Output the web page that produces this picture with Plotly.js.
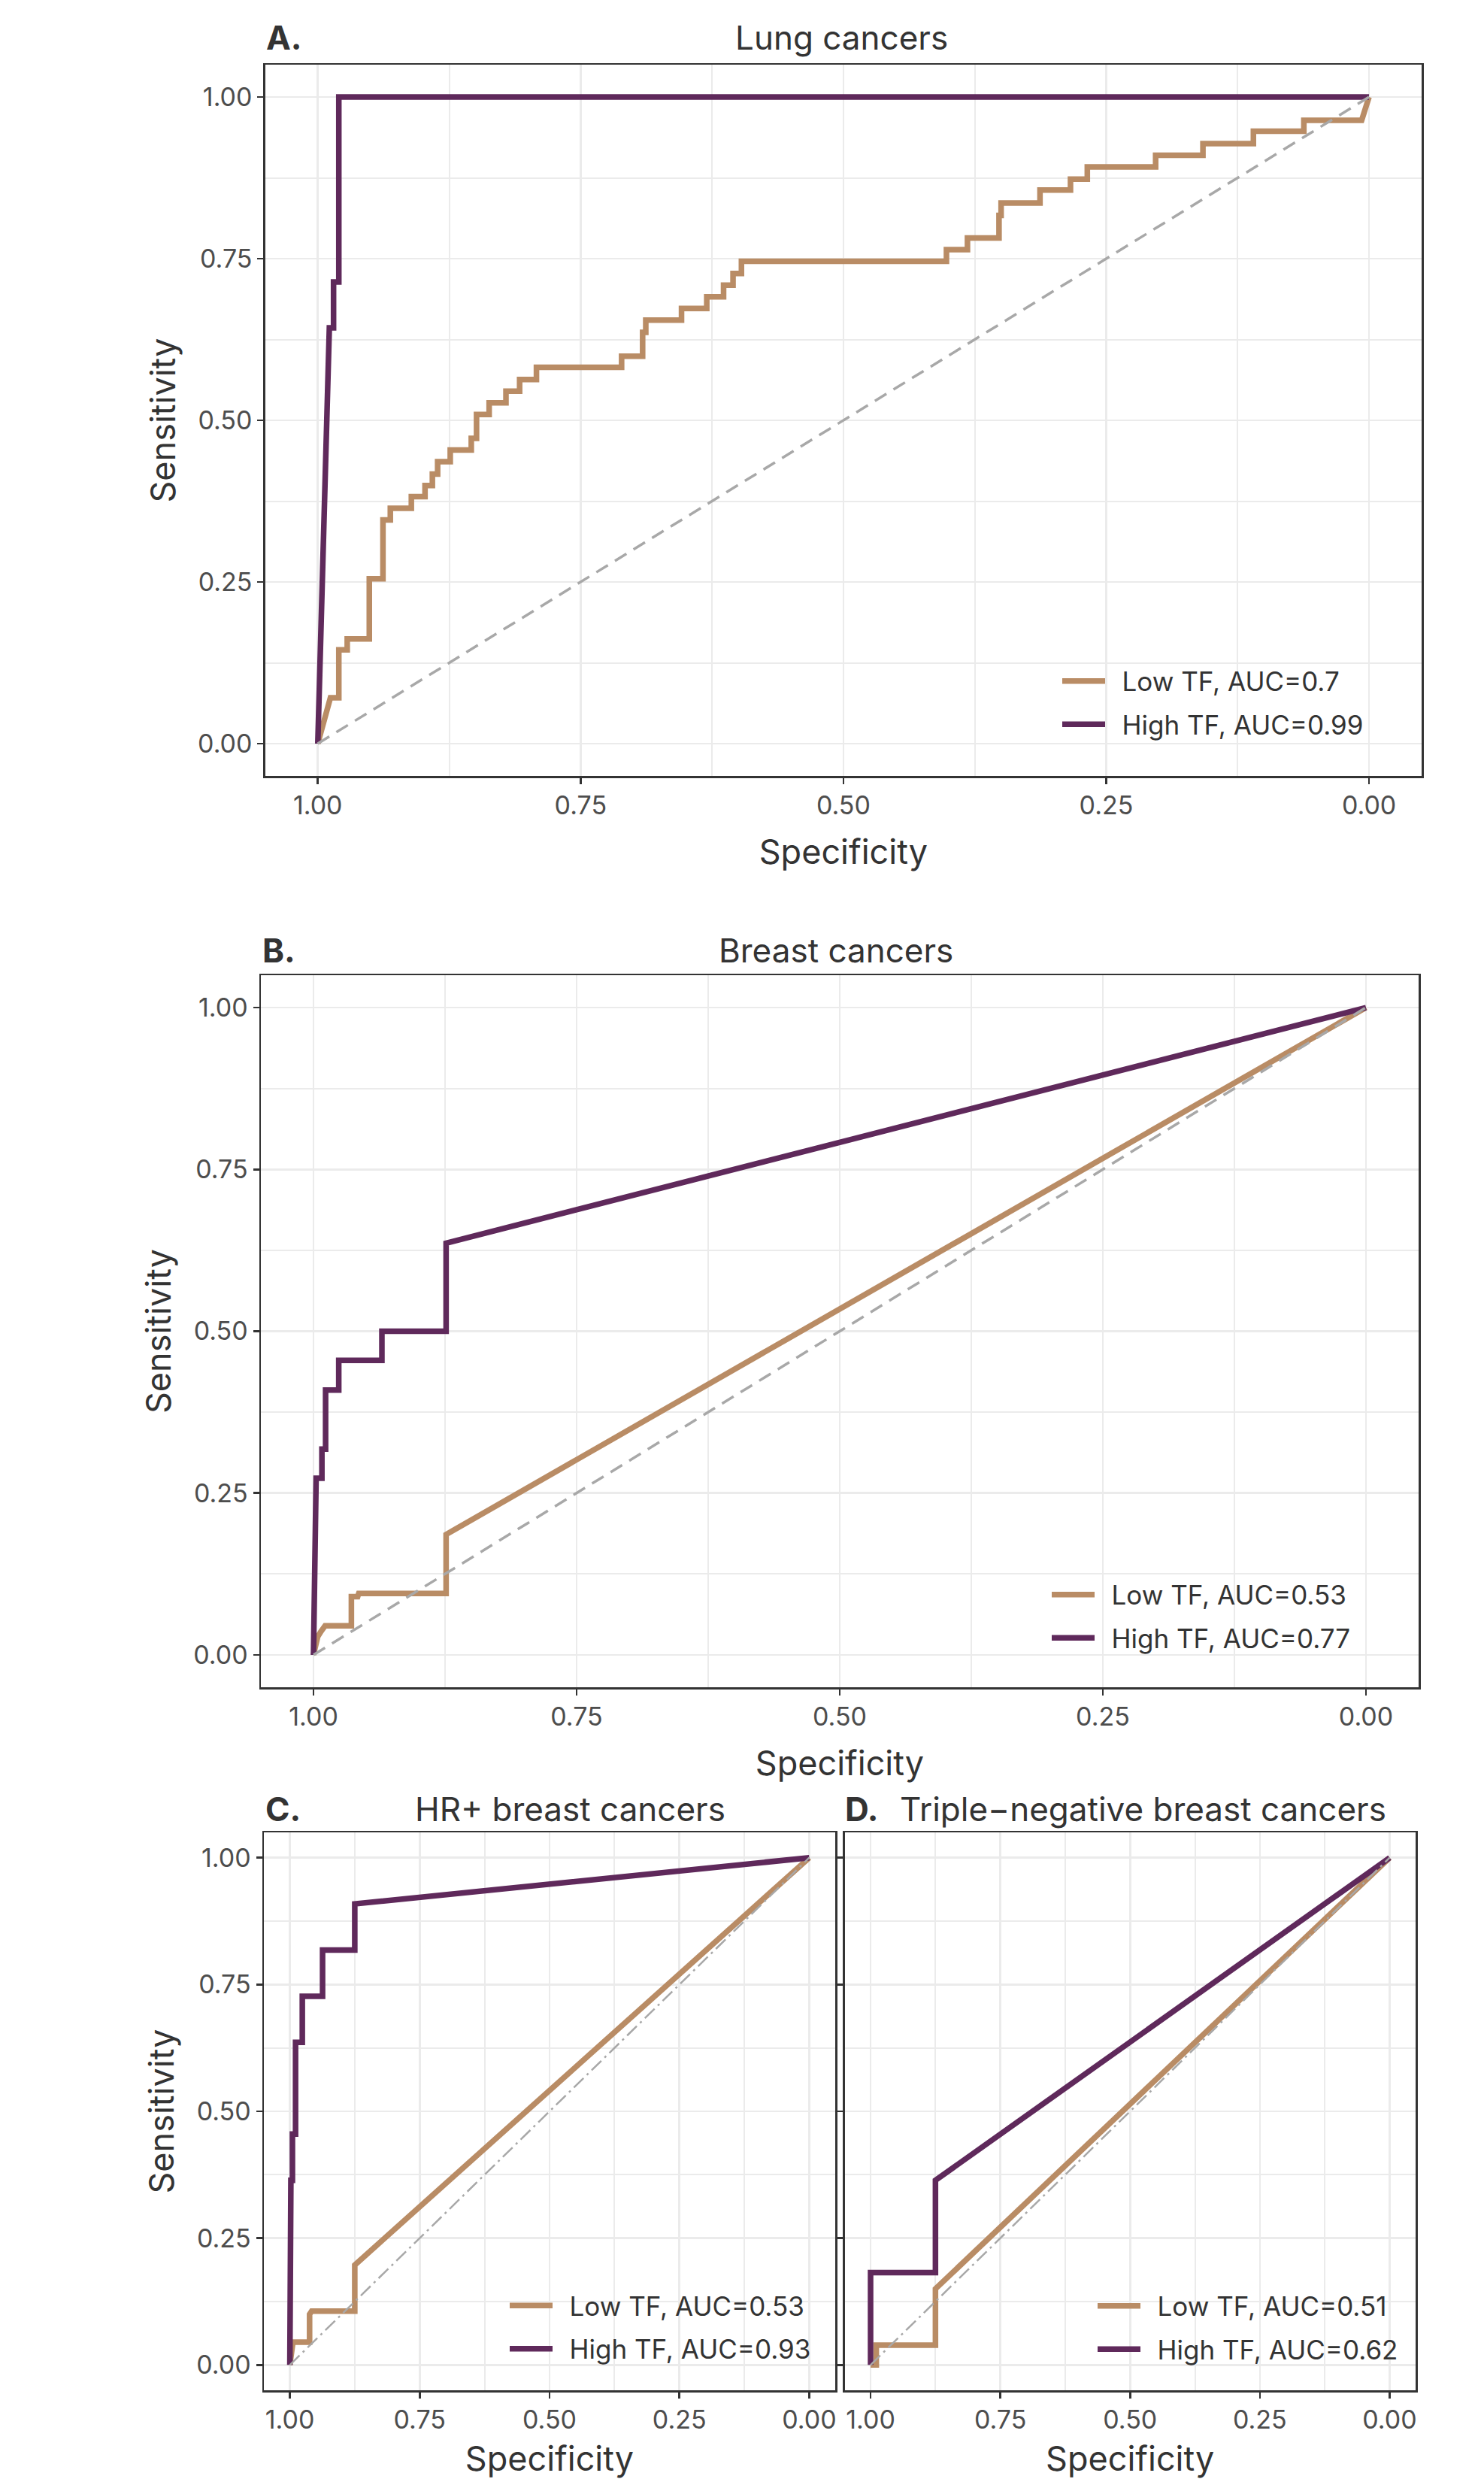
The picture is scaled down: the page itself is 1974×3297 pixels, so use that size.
<!DOCTYPE html>
<html><head><meta charset="utf-8">
<script src="https://cdn.plot.ly/plotly-3.0.1.min.js"></script>
<style>html,body{margin:0;padding:0;background:#fff}#chart{width:1974px;height:3297px}</style>
</head><body><div id="chart"></div>
<script>
const W = 1974, H = 3297;
const FONT = 'Inter, "Open Sans", sans-serif';

// ---- text ----
const panelTags = ['A.', 'B.', 'C.', 'D.'];
const panelTitles = ['Lung cancers', 'Breast cancers', 'HR+ breast cancers', 'Triple\u2212negative breast cancers'];
const lowLabels = ['Low TF, AUC=0.7', 'Low TF, AUC=0.53', 'Low TF, AUC=0.53', 'Low TF, AUC=0.51'];
const highLabels = ['High TF, AUC=0.99', 'High TF, AUC=0.77', 'High TF, AUC=0.93', 'High TF, AUC=0.62'];
const tickVals = [1, 0.75, 0.5, 0.25, 0];
const tickText = ['1.00', '0.75', '0.50', '0.25', '0.00'];
const minorVals = [0.875, 0.625, 0.375, 0.125];
const xTitle = 'Specificity', yTitle = 'Sensitivity';

// ---- data (specificity, sensitivity) ----
const lungLowSpec = [1.000,0.988,0.980,0.980,0.972,0.972,0.951,0.951,0.938,0.938,0.931,0.931,0.911,0.911,0.898,0.898,0.891,0.891,0.886,0.886,0.874,0.874,0.854,0.854,0.849,0.849,0.837,0.837,0.821,0.821,0.808,0.808,0.792,0.792,0.711,0.711,0.691,0.691,0.688,0.688,0.654,0.654,0.630,0.630,0.614,0.614,0.605,0.605,0.597,0.597,0.402,0.402,0.382,0.382,0.352,0.352,0.350,0.350,0.313,0.313,0.284,0.284,0.268,0.268,0.203,0.203,0.158,0.158,0.110,0.110,0.062,0.062,0.007,0.000];
const lungLowSens = [0.000,0.071,0.071,0.145,0.145,0.162,0.162,0.255,0.255,0.346,0.346,0.364,0.364,0.382,0.382,0.399,0.399,0.417,0.417,0.436,0.436,0.454,0.454,0.472,0.472,0.509,0.509,0.527,0.527,0.545,0.545,0.563,0.563,0.582,0.582,0.599,0.599,0.636,0.636,0.655,0.655,0.673,0.673,0.691,0.691,0.709,0.709,0.727,0.727,0.746,0.746,0.764,0.764,0.782,0.782,0.817,0.817,0.836,0.836,0.856,0.856,0.873,0.873,0.892,0.892,0.910,0.910,0.928,0.928,0.947,0.947,0.964,0.964,1.000];
const lungHighSpec = [1.000,0.989,0.985,0.985,0.980,0.980,0.000];
const lungHighSens = [0.000,0.643,0.643,0.714,0.714,1.000,1.000];

const breastLowSpec = [1.000,0.996,0.993,0.989,0.964,0.964,0.958,0.957,0.874,0.874,0.000];
const breastLowSens = [0.000,0.028,0.036,0.045,0.045,0.090,0.090,0.095,0.095,0.186,1.000];
const breastHighSpec = [1.000,0.9975,0.992,0.992,0.9885,0.9885,0.976,0.976,0.935,0.935,0.874,0.874,0.000];
const breastHighSens = [0.000,0.273,0.273,0.318,0.318,0.409,0.409,0.455,0.455,0.500,0.500,0.636,1.000];

const hrLowSpec = [1.000,0.994,0.962,0.962,0.958,0.875,0.875,0.000];
const hrLowSens = [0.000,0.045,0.045,0.100,0.106,0.106,0.197,1.000];
const hrHighSpec = [1.000,0.998,0.995,0.995,0.989,0.989,0.976,0.976,0.937,0.937,0.875,0.875,0.000];
const hrHighSens = [0.000,0.364,0.364,0.455,0.455,0.636,0.636,0.727,0.727,0.818,0.818,0.909,1.000];

const tnLowSpec = [1.000,0.989,0.989,0.875,0.875,0.000];
const tnLowSens = [0.000,0.000,0.039,0.039,0.150,1.000];
const tnHighSpec = [1.000,1.000,0.875,0.875,0.000];
const tnHighSens = [0.000,0.182,0.182,0.364,1.000];

const chanceSpec = [1, 0];
const chanceSens = [0, 1];

// ---- styling / layout ----
const TAN = '#B98C65', PURPLE = '#5F295B', TXT = '#333333', TICK = '#4D4D4D', GRID = '#EBEBEB';
const frames = [
  {l: 352.8, r: 1891, t: 86, b: 1032},
  {l: 347, r: 1887, t: 1297, b: 2244},
  {l: 351, r: 1111, t: 2437, b: 3179},
  {l: 1123.5, r: 1883, t: 2437, b: 3179}
];
const lowData = [[lungLowSpec, lungLowSens], [breastLowSpec, breastLowSens], [hrLowSpec, hrLowSens], [tnLowSpec, tnLowSens]];
const highData = [[lungHighSpec, lungHighSens], [breastHighSpec, breastHighSens], [hrHighSpec, hrHighSens], [tnHighSpec, tnHighSens]];
const chanceDash = ['18px,11px', '18px,11px', '18px,6px,3px,6px', '18px,6px,3px,6px'];
const chanceWidth = [3.5, 3.5, 2.5, 2.5];
const legendPos = [
  {x: 1408, y: 934.5}, {x: 1394, y: 2149.5}, {x: 673, y: 3095}, {x: 1455, y: 3095.5}
];
const tagPos = [{x: 352, y: 50}, {x: 347, y: 1264}, {x: 351, y: 2406}, {x: 1122, y: 2406}];
const titlePos = [{x: 1119, y: 50}, {x: 1112, y: 1264}, {x: 758, y: 2406}, {x: 1520, y: 2406}];
const LEGEND_PAD = '\u2002';

const traces = [];
const layout = {
  width: W, height: H, margin: {l: 0, r: 0, t: 0, b: 0},
  paper_bgcolor: '#ffffff', plot_bgcolor: '#ffffff',
  font: {family: FONT, color: TXT},
  showlegend: true, annotations: []
};

frames.forEach((f, i) => {
  const n = i === 0 ? '' : String(i + 1);
  const xa = 'x' + n, ya = 'y' + n, lg = 'legend' + n;
  traces.push({
    x: lowData[i][0], y: lowData[i][1], xaxis: xa, yaxis: ya, type: 'scatter', mode: 'lines',
    name: LEGEND_PAD + lowLabels[i], legend: lg, legendgroup: 'low' + i,
    line: {color: TAN, width: 7.5}, hoverinfo: 'skip'
  });
  traces.push({
    x: highData[i][0], y: highData[i][1], xaxis: xa, yaxis: ya, type: 'scatter', mode: 'lines',
    name: LEGEND_PAD + highLabels[i], legend: lg, legendgroup: 'high' + i,
    line: {color: PURPLE, width: 7.5}, hoverinfo: 'skip'
  });
  traces.push({
    x: chanceSpec, y: chanceSens, xaxis: xa, yaxis: ya, type: 'scatter', mode: 'lines',
    showlegend: false, line: {color: '#A8A8A8', width: chanceWidth[i], dash: chanceDash[i]}, hoverinfo: 'skip'
  });
  const common = {
    tickmode: 'array', tickvals: tickVals, ticktext: tickText,
    showgrid: true, gridcolor: GRID, gridwidth: 2.6, zeroline: false,
    minor: {tickmode: 'array', tickvals: minorVals, showgrid: true, gridcolor: GRID, gridwidth: 2, ticks: ''},
    showline: true, mirror: true, linecolor: TXT, linewidth: 2.5,
    ticks: 'outside', ticklen: 8, tickwidth: 2.5, tickcolor: TXT,
    tickfont: {family: FONT, size: 34, color: TICK}, automargin: false, fixedrange: true
  };
  layout['xaxis' + n] = Object.assign({}, common, {
    domain: [f.l / W, f.r / W], anchor: ya, range: [1.05, -0.05],
    title: {text: xTitle, font: {family: FONT, size: 45, color: TXT}, standoff: 27}
  });
  layout['yaxis' + n] = Object.assign({}, common, {
    domain: [1 - f.b / H, 1 - f.t / H], anchor: xa, range: [-0.05, 1.05],
    showticklabels: i !== 3,
    title: i !== 3 ? {text: yTitle, font: {family: FONT, size: 45, color: TXT}, standoff: 16} : {text: ''}
  });
  layout[lg] = {
    x: legendPos[i].x / W, y: 1 - legendPos[i].y / H, xanchor: 'left', yanchor: 'middle',
    bgcolor: 'rgba(0,0,0,0)', borderwidth: 0, traceorder: 'grouped', tracegroupgap: 9,
    itemwidth: 57, font: {family: FONT, size: 35, color: TXT}
  };
  layout.annotations.push({
    xref: 'paper', yref: 'paper', x: tagPos[i].x / W, y: 1 - tagPos[i].y / H,
    xanchor: 'left', yanchor: 'middle', showarrow: false, text: '<b>' + panelTags[i] + '</b>',
    font: {family: FONT, size: 44, color: TXT}
  });
  layout.annotations.push({
    xref: 'paper', yref: 'paper', x: titlePos[i].x / W, y: 1 - titlePos[i].y / H,
    xanchor: 'center', yanchor: 'middle', showarrow: false, text: panelTitles[i],
    font: {family: FONT, size: 44, color: TXT}
  });
});

Plotly.newPlot('chart', traces, layout, {staticPlot: true, displayModeBar: false});
</script></body></html>
